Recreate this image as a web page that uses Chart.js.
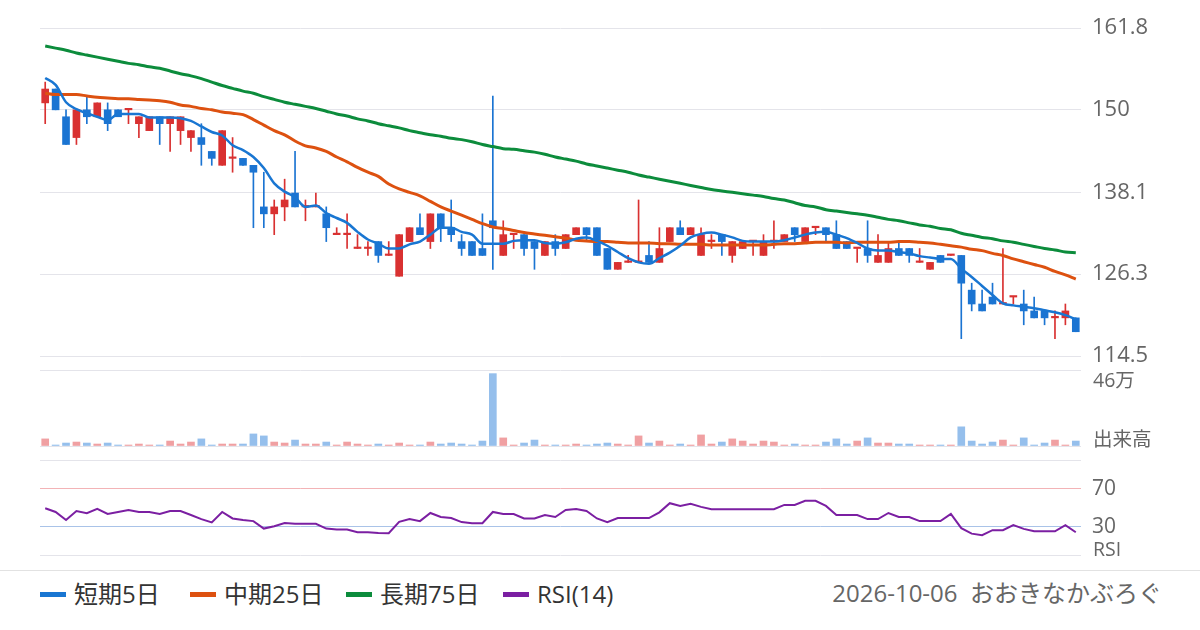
<!DOCTYPE html>
<html lang="ja">
<head>
  <meta charset="UTF-8">
  <title>株価チャート</title>
  <script src="https://cdn.jsdelivr.net/npm/chart.js"></script>
  <style>
    body {
      margin: 0;
      background: #fff;
      font-family: "Open Sans", "Noto Sans CJK JP", sans-serif;
    }
    #wrap {
      position: relative;
      width: 1200px;
      height: 630px;
      overflow: hidden;
    }
    canvas {
      position: absolute;
      left: 0;
    }
    .side {
      position: absolute;
      left: 1093px;
      font-size: 19.5px;
      line-height: 1;
      color: #666;
      transform: translateY(-50%);
      white-space: nowrap;
    }
    #sep {
      position: absolute;
      left: 0;
      top: 570px;
      width: 1200px;
      border-top: 1px solid #e2e2e2;
    }
    .legend {
      position: absolute;
      top: 594px;
      transform: translateY(-50%);
      font-size: 24px;
      line-height: 1;
      color: #333;
      white-space: nowrap;
    }
    .legend i {
      display: inline-block;
      width: 26px;
      height: 5.5px;
      margin-right: 8px;
      vertical-align: middle;
      position: relative;
      top: -2px;
    }
    #footer {
      position: absolute;
      right: 38px;
      top: 593px;
      transform: translateY(-50%);
      font-size: 24px;
      line-height: 1;
      color: #666;
      white-space: nowrap;
    }
  </style>
</head>
<body>
  <div id="wrap">
    <canvas id="priceChart" width="1200" height="370" style="top:0"></canvas>
    <canvas id="volumeChart" width="1200" height="96" style="top:360px"></canvas>
    <canvas id="rsiChart" width="1200" height="116" style="top:450px"></canvas>

    <div class="side" style="top:380px">46万</div>
    <div class="side" style="top:439px">出来高</div>
    <div class="side" style="top:549px">RSI</div>

    <div id="sep"></div>

    <div class="legend" style="left:40px"><i style="background:#1976d2"></i>短期5日</div>
    <div class="legend" style="left:190px"><i style="background:#dd5110"></i>中期25日</div>
    <div class="legend" style="left:346px"><i style="background:#0c8c3c"></i>長期75日</div>
    <div class="legend" style="left:503px"><i style="background:#7b1fa2"></i>RSI(14)</div>
    <div id="footer">2026-10-06&nbsp; おおきなかぶろぐ</div>
  </div>

  <script>
    // ローソク足 (100本)
    const opens = [151,153,149,146,150,149,150,150,150,148, 147,149,148,147,146,146,144,142,143,143,
                   142,136,135,136,138,136,136,135,132,132, 130,130,131,129,126,131,133,131,135,133,
                   131,131,130,134,129,132,132,131,129,131, 130,132,133,133,130,127,128,128,129,128,
                   131,133,132,129,131,132,129,130,131,129, 131,131,133,131,133,133,132,131,130,130,
                   128,128,130,130,128,127,129,129,129,124, 122,123,122,123,122,121,121,120,120,120];
    const highs = [154,153,150,150,152,151,151,150,150,149, 149,149,149,149,147,148,144,147,146,143,
                   142,141,137,140,144,137,138,136,133,135, 132,131,131,131,132,133,135,135,135,137,
                   132,131,135,152,134,132,132,131,131,132, 132,133,133,133,130,128,129,137,131,133,
                   133,134,133,133,132,132,131,131,131,132, 134,132,133,133,133,133,134,131,130,134,
                   132,131,131,130,130,128,129,129,129,125, 124,125,130,123,124,123,121,121,122,120];
    const lows = [148,150,145,145,148,149,147,149,148,146, 147,145,144,145,144,142,142,142,141,142,
                  133,133,132,134,136,134,136,131,132,130, 130,129,128,129,126,131,132,130,131,131,
                  129,129,129,127,129,130,129,127,129,129, 130,132,131,129,127,127,128,128,128,128,
                  131,132,132,129,130,129,128,130,129,129, 130,131,131,131,132,131,130,130,128,128,
                  128,128,129,128,128,127,128,129,117,121, 121,122,122,122,119,120,119,117,119,118];
    const closes = [153,150,145,150,149,151,148,149,150,149, 149,148,149,149,147,145,143,147,143,142,
                    141,135,136,137,136,136,136,133,132,132, 130,130,129,129,132,133,132,135,133,132,
                    130,129,129,133,132,132,130,130,131,130, 132,133,132,129,127,128,128,128,128,130,
                    133,132,133,132,131,131,131,131,131,131, 131,132,132,133,133,132,130,130,130,129,
                    129,130,129,129,128,128,128,129,125,122, 121,122,122,123,121,120,120,120,121,118];

    // 移動平均 (短期5日・中期25日・長期75日)
    const ma5 = [154.6,153.6,151.1,150.1,149.5,149.0,148.5,149.4,149.4,149.4, 148.9,148.9,148.9,148.8,148.4,147.6,146.8,146.3,144.9,144.2,
                 143.2,141.6,139.4,138.2,137.4,136.0,136.2,135.1,134.4,133.7, 132.4,131.3,130.7,130.0,130.0,130.6,131.0,132.0,133.0,133.0,
                 132.4,132.0,130.7,130.7,130.7,131.1,131.2,131.2,130.8,130.7, 130.9,131.4,131.6,131.1,130.4,129.5,128.6,128.0,127.8,128.6,
                 129.4,130.4,131.6,132.1,132.3,132.0,131.6,131.1,131.0,131.0, 131.0,131.2,131.6,132.0,132.3,132.4,132.0,131.5,130.8,130.0,
                 129.7,129.7,129.5,129.3,128.9,128.7,128.5,128.5,127.1,125.9, 124.6,123.3,122.1,121.8,121.6,121.4,121.1,120.8,120.4,119.8];
    const ma25 = [152.4,152.2,152.2,152.2,152.0,151.8,151.7,151.6,151.6,151.5, 151.4,151.3,151.1,150.7,150.5,150.2,150.0,149.7,149.5,149.3,
                  148.6,147.8,147.0,146.4,145.5,144.8,144.5,144.0,143.2,142.5, 141.7,141.0,140.4,139.3,138.6,138.1,137.6,136.8,136.0,135.4,
                  134.8,134.2,133.6,133.1,132.9,132.6,132.3,132.1,131.9,131.7, 131.5,131.2,131.1,131.0,131.0,130.9,130.8,130.8,130.8,130.7,
                  130.7,130.6,130.6,130.6,130.5,130.5,130.5,130.5,130.5,130.5, 130.6,130.7,130.7,130.8,130.9,130.9,130.9,130.8,130.9,130.9,
                  130.9,130.9,131.0,131.0,130.9,130.8,130.6,130.4,130.2,129.9, 129.7,129.3,129.0,128.5,128.1,127.7,127.3,126.7,126.2,125.6];
    const ma75 = [159.2,158.9,158.6,158.2,157.9,157.6,157.3,157.0,156.7,156.5, 156.2,156.0,155.6,155.2,154.9,154.5,154.0,153.5,153.1,152.7,
                  152.4,151.9,151.5,151.1,150.8,150.5,150.2,149.8,149.4,149.1, 148.7,148.4,148.0,147.7,147.4,147.0,146.7,146.4,146.2,145.9,
                  145.7,145.4,145.0,144.7,144.4,144.3,144.1,143.9,143.6,143.2, 142.9,142.6,142.2,141.9,141.6,141.3,141.0,140.6,140.3,140.0,
                  139.7,139.4,139.1,138.8,138.5,138.3,138.1,137.9,137.7,137.5, 137.2,137.0,136.6,136.2,136.0,135.6,135.4,135.2,135.0,134.8,
                  134.5,134.2,134.0,133.7,133.4,133.2,132.9,132.7,132.2,131.9, 131.6,131.4,131.1,130.9,130.6,130.3,130.0,129.8,129.5,129.4];

    // 出来高 (万株)
    const volumes = [4.3,0.6,1.8,2.4,1.8,1.2,1.8,0.6,0.6,1.2, 0.6,0.6,3.0,1.2,2.4,4.3,0.6,1.2,1.2,1.2,
                     7.3,6.1,2.4,1.8,3.6,1.2,1.2,2.4,0.6,2.4, 1.2,0.6,1.2,0.6,1.8,0.6,0.6,2.4,1.2,1.8,
                     1.2,0.6,3.0,43.8,4.9,0.6,1.8,3.6,0.6,0.6, 0.6,1.2,0.6,1.2,1.8,1.2,0.6,6.1,1.8,3.0,
                     0.6,1.2,0.6,6.7,1.2,2.4,4.3,3.0,1.2,3.0, 2.4,0.6,1.2,0.6,0.6,2.4,4.3,1.2,3.0,4.9,
                     1.8,1.8,1.2,1.2,0.6,0.6,0.6,0.6,11.6,3.0, 1.2,2.4,3.6,0.6,4.9,0.6,1.8,3.6,0.6,3.0];

    // RSI(14)
    const rsi = [49.5,45.6,37.1,46.6,44.2,48.8,43.5,45.6,47.7,45.6, 45.6,43.5,46.6,46.6,42.4,38.1,34.6,45.6,38.8,37.1,
                 36.0,28.2,30.7,33.9,33.2,33.2,33.2,28.2,27.2,27.2, 24.3,24.3,23.6,23.3,35.3,38.1,36.0,44.5,40.3,39.2,
                 35.0,33.9,33.9,45.6,43.5,43.5,38.8,38.8,42.4,40.3, 47.7,48.8,46.6,38.8,35.0,39.2,39.2,39.2,39.2,45.2,
                 54.8,51.9,54.1,50.9,48.4,48.4,48.4,48.4,48.4,48.4, 48.4,53.0,53.0,57.3,57.3,51.9,42.4,42.4,42.4,38.1,
                 38.1,44.5,40.3,40.3,36.0,36.0,36.0,43.5,28.6,22.9, 21.2,26.5,26.5,31.8,27.9,25.4,25.4,25.4,31.8,24.3];

    const priceTicks = [114.5, 126.3, 138.1, 150, 161.8];
    const priceTickLabels = ['114.5', '126.3', '138.1', '150', '161.8'];
    const volumeMax = 46;
    const rsiTicks = [0, 30, 70, 100];
    const rsiTickLabels = ['', '30', '70', ''];

    const labels = closes.map((c, i) => i + 1);

    const UP = '#d93131';
    const DOWN = '#1b74d2';
    const isUp = closes.map((c, i) => c >= opens[i]);
    const candleColors = isUp.map(u => u ? UP : DOWN);
    const volumeColors = isUp.map(u => u ? '#f0a0a2' : '#95bfec');

    const AXIS_WIDTH = 119;
    const gridGray = '#e4e4ea';

    // keep the right axis at a fixed width and stop its labels from shrinking the plot
    function fixWidth(scale) {
      scale.width = AXIS_WIDTH;
      scale.paddingTop = 0;
      scale.paddingBottom = 0;
    }

    Chart.defaults.font.family = '"Open Sans", "Noto Sans CJK JP", sans-serif';
    Chart.defaults.animation = false;

    const noPlugins = {
      legend: { display: false },
      tooltip: { enabled: false }
    };

    // 株価チャート
    new Chart(document.getElementById('priceChart'), {
      type: 'bar',
      data: {
        labels: labels,
        datasets: [
          {
            type: 'line', label: '短期5日', data: ma5, order: 0,
            borderColor: '#1976d2', borderWidth: 2.5, pointRadius: 0,
            cubicInterpolationMode: 'monotone'
          },
          {
            type: 'line', label: '中期25日', data: ma25, order: 1,
            borderColor: '#dd5110', borderWidth: 3, pointRadius: 0,
            cubicInterpolationMode: 'monotone'
          },
          {
            type: 'line', label: '長期75日', data: ma75, order: 2,
            borderColor: '#0c8c3c', borderWidth: 3, pointRadius: 0,
            cubicInterpolationMode: 'monotone'
          },
          {
            label: 'body', data: opens.map((o, i) => [o, closes[i]]), order: 3,
            backgroundColor: candleColors, barThickness: 7, grouped: false,
            minBarLength: 1.5
          },
          {
            label: 'wick', data: lows.map((l, i) => [l, highs[i]]), order: 4,
            backgroundColor: candleColors, barThickness: 1, grouped: false
          }
        ]
      },
      options: {
        responsive: false,
        layout: { padding: { left: 40, right: 0, top: 28, bottom: 14 } },
        plugins: noPlugins,
        scales: {
          x: { display: false },
          y: {
            position: 'right',
            min: 114.5,
            max: 161.8,
            afterBuildTicks: scale => { scale.ticks = priceTicks.map(v => ({ value: v })); },
            afterFit: fixWidth,
            border: { display: false },
            grid: { color: gridGray, drawTicks: false },
            ticks: {
              padding: 11,
              color: '#666',
              font: { size: 22 },
              callback: (v) => priceTickLabels[priceTicks.indexOf(v)]
            }
          }
        }
      }
    });

    // 出来高
    new Chart(document.getElementById('volumeChart'), {
      type: 'bar',
      data: {
        labels: labels,
        datasets: [{
          label: '出来高', data: volumes,
          backgroundColor: volumeColors, barThickness: 7
        }]
      },
      options: {
        responsive: false,
        layout: { padding: { left: 40, right: 0, top: 10, bottom: 10 } },
        plugins: noPlugins,
        scales: {
          x: { display: false },
          y: {
            position: 'right',
            min: 0,
            max: volumeMax,
            afterBuildTicks: scale => { scale.ticks = [{ value: 0 }, { value: volumeMax }]; },
            afterFit: fixWidth,
            border: { display: false },
            grid: { color: gridGray, drawTicks: false },
            ticks: { display: false }
          }
        }
      }
    });

    // RSI
    new Chart(document.getElementById('rsiChart'), {
      type: 'line',
      data: {
        labels: labels,
        datasets: [{
          label: 'RSI(14)', data: rsi,
          borderColor: '#7b1fa2', borderWidth: 2, pointRadius: 0, tension: 0
        }]
      },
      options: {
        responsive: false,
        layout: { padding: { left: 40, right: 0, top: 10, bottom: 10.5 } },
        plugins: noPlugins,
        scales: {
          x: { display: false, offset: true },
          y: {
            position: 'right',
            min: 0,
            max: 100,
            afterBuildTicks: scale => { scale.ticks = rsiTicks.map(v => ({ value: v })); },
            afterFit: fixWidth,
            border: { display: false },
            grid: {
              drawTicks: false,
              color: ctx => {
                const v = ctx.tick ? ctx.tick.value : 0;
                if (v === 70) return '#f3b3b6';
                if (v === 30) return '#a9c3e8';
                return gridGray;
              }
            },
            ticks: {
              padding: 11,
              color: '#666',
              font: { size: 21 },
              callback: (v) => rsiTickLabels[rsiTicks.indexOf(v)]
            }
          }
        }
      }
    });
  </script>
</body>
</html>
